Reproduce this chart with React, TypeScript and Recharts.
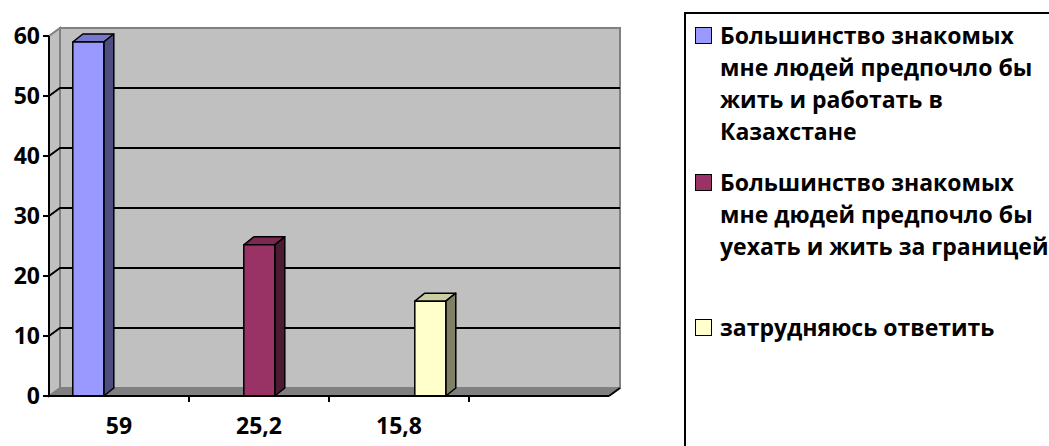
import { BarChart, Bar, XAxis, YAxis, ReferenceArea, ReferenceLine } from 'recharts'

// categories along the x axis (the fourth slot is left empty)
const categories = ['59', '25,2', '15,8', '']
const stayValues = [59, null, null, null]
const leaveValues = [null, 25.2, null, null]
const unsureValues = [null, null, 15.8, null]
const yTicks = [0, 10, 20, 30, 40, 50, 60]
const gridValues = [10, 20, 30, 40, 50]

const stayLabel = ['Большинство знакомых', 'мне людей предпочло бы', 'жить и работать в', 'Казахстане']
const leaveLabel = ['Большинство знакомых', 'мне дюдей предпочло бы', 'уехать и жить за границей']
const unsureLabel = ['затрудняюсь ответить']

const FONT = '"Open Sans", "Noto Sans", sans-serif'
const WALL_DX = 11
const WALL_DY = 8
const BAR_DX = 10
const BAR_DY = 8

const SERIES = [
  { key: 'stay', values: stayValues, label: stayLabel, front: '#9999FF', top: '#7777CC', side: '#4D4D80' },
  { key: 'leave', values: leaveValues, label: leaveLabel, front: '#993366', top: '#7A2952', side: '#4D1A33' },
  { key: 'unsure', values: unsureValues, label: unsureLabel, front: '#FFFFCC', top: '#CCCCA3', side: '#808066' },
]

const data = categories.map((cat, i) => {
  const row: Record<string, any> = { cat }
  for (const s of SERIES) row[s.key] = s.values[i]
  return row
})

// back wall, left side wall and floor of the pseudo-3D plot box
const Wall = (p: any) => {
  const { x, y, width, height } = p
  const bx = x + WALL_DX
  const by = y - WALL_DY
  const bottom = y + height
  return (
    <g>
      <polygon
        points={`${x},${bottom} ${x},${y} ${bx},${by} ${bx},${by + height}`}
        fill="#C0C0C0"
        stroke="#808080"
        strokeWidth={2}
      />
      <rect x={bx} y={by} width={width} height={height} fill="#C0C0C0" stroke="#808080" strokeWidth={2} />
      <polygon
        points={`${x},${bottom} ${bx},${by + height} ${bx + width},${by + height} ${x + width},${bottom}`}
        fill="#808080"
      />
      <line x1={x + width} y1={bottom} x2={bx + width} y2={by + height} stroke="#000" strokeWidth={2} />
    </g>
  )
}

// gridline bent across the side wall onto the back wall
const GridLine = (p: any) => {
  const { x1, y1, x2 } = p
  if (x1 == null || y1 == null) return null
  return (
    <path
      d={`M${x1},${y1} L${x1 + WALL_DX},${y1 - WALL_DY} L${x2 + WALL_DX},${y1 - WALL_DY}`}
      fill="none"
      stroke="#000"
      strokeWidth={2}
    />
  )
}

const makeColumn = (front: string, top: string, side: string) => (p: any) => {
  const { x, y, width, height } = p
  if (!height || height <= 0) return <g />
  const r = x + width
  return (
    <g stroke="#000" strokeWidth={1.5} strokeLinejoin="round">
      <polygon points={`${x},${y} ${x + BAR_DX},${y - BAR_DY} ${r + BAR_DX},${y - BAR_DY} ${r},${y}`} fill={top} />
      <polygon points={`${r},${y} ${r + BAR_DX},${y - BAR_DY} ${r + BAR_DX},${y + height - BAR_DY} ${r},${y + height}`} fill={side} />
      <rect x={x} y={y} width={width} height={height} fill={front} />
    </g>
  )
}

const CategoryTick = (p: any) => {
  const { x, y, payload, index, visibleTicksCount } = p
  const half = payload?.offset ?? 0
  const bx = x + half
  return (
    <g>
      {index < visibleTicksCount - 1 && (
        <line x1={bx} y1={y - 6} x2={bx} y2={y} stroke="#000" strokeWidth={2} />
      )}
      <text x={x} y={y + 32} textAnchor="middle" fill="#000" fontSize={23} fontWeight={700} fontFamily={FONT}>
        {payload.value}
      </text>
    </g>
  )
}

const LegendBox = () => {
  // top of each entry's first line box, inside the frame
  const tops = [5, 152, 297]
  return (
    <div
      style={{
        position: 'absolute',
        left: 684,
        top: 12,
        width: 420,
        height: 460,
        border: '2px solid #000',
        background: '#fff',
        boxSizing: 'border-box',
      }}
    >
      {SERIES.map((s, i) => (
        <div key={s.key} style={{ position: 'absolute', left: 0, top: tops[i] }}>
          <div
            style={{
              position: 'absolute',
              left: 9,
              top: 8,
              width: 15,
              height: 15,
              background: s.front,
              border: '1.5px solid #000',
            }}
          />
          <div
            style={{
              position: 'absolute',
              left: 34,
              top: 0,
              whiteSpace: 'nowrap',
              fontFamily: FONT,
              fontWeight: 700,
              fontSize: 23,
              lineHeight: '32px',
              color: '#000',
            }}
          >
            {s.label.map((line, j) => (
              <div key={j}>{line}</div>
            ))}
          </div>
        </div>
      ))}
    </div>
  )
}

export default function App() {
  return (
    <div
      style={{
        position: 'absolute',
        left: 0,
        top: 0,
        width: 1049,
        height: 446,
        overflow: 'hidden',
        background: '#fff',
      }}
    >
      <BarChart
        width={1049}
        height={446}
        data={data}
        margin={{ top: 36, right: 440, bottom: 0, left: 0 }}
        barCategoryGap="17%"
        barGap={0}
      >
        <ReferenceArea y1={0} y2={60} shape={Wall} ifOverflow="visible" zIndex={-60} />
        {gridValues.map(v => (
          <ReferenceLine key={v} y={v} shape={GridLine} zIndex={-50} />
        ))}
        <XAxis
          dataKey="cat"
          height={50}
          interval={0}
          axisLine={{ stroke: '#000', strokeWidth: 2 }}
          tickLine={false}
          tickSize={6}
          tickMargin={0}
          tick={<CategoryTick />}
        />
        <YAxis
          width={49}
          domain={[0, 60]}
          ticks={yTicks}
          interval={0}
          axisLine={{ stroke: '#000', strokeWidth: 2 }}
          tickLine={{ stroke: '#000', strokeWidth: 2 }}
          tickSize={6}
          tickMargin={3}
          tick={{ fill: '#000', fontSize: 23, fontWeight: 700, fontFamily: FONT }}
        />
        {SERIES.map(s => (
          <Bar
            key={s.key}
            dataKey={s.key}
            isAnimationActive={false}
            shape={makeColumn(s.front, s.top, s.side)}
          />
        ))}
      </BarChart>
      <LegendBox />
    </div>
  )
}
